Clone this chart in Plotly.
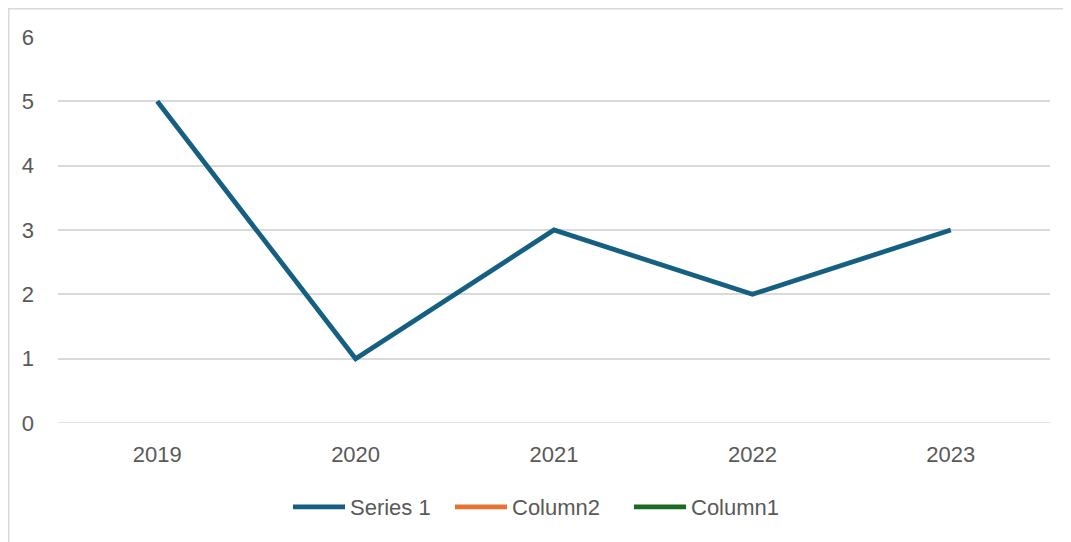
import plotly.graph_objects as go

years = ["2019", "2020", "2021", "2022", "2023"]
series1 = [5, 1, 3, 2, 3]
column2 = [None, None, None, None, None]
column1 = [None, None, None, None, None]

FONT = "Liberation Sans"
TXT = "#595959"
GRID = "#d9d9d9"
FS = 22

fig = go.Figure()
fig.add_trace(go.Scatter(x=years, y=series1, name="Series 1", mode="lines",
                         line=dict(color="#156082", width=4.8), legendwidth=95))
fig.add_trace(go.Scatter(x=years, y=column2, name="Column2", mode="lines",
                         line=dict(color="#E97132", width=4.8), showlegend=True,
                         legendwidth=112))
fig.add_trace(go.Scatter(x=years, y=column1, name="Column1", mode="lines",
                         line=dict(color="#196B24", width=4.8), showlegend=True,
                         legendwidth=100))

# page has an 8px body margin; figure coordinates = screen - 8
OFF = 8
W, H = 1071 - OFF, 542 - OFF
L, R = 58 - OFF, 21
T = 37 - OFF
B = H - (423 - OFF)
pw, ph = W - L - R, H - T - B

def px(x):
    return (x - OFF - L) / pw

def py(y):
    return (H - B - (y - OFF)) / ph

fig.update_layout(
    width=W, height=H,
    margin=dict(l=L, r=R, t=T, b=B),
    paper_bgcolor="white", plot_bgcolor="white",
    font=dict(family=FONT, size=FS, color=TXT),
    showlegend=True,
    legend=dict(orientation="h", x=px(288), xanchor="left", y=py(507), yanchor="middle",
                font=dict(family=FONT, size=FS, color=TXT), itemwidth=52,
                bgcolor="rgba(0,0,0,0)"),
    xaxis=dict(type="category", range=[-0.5, 4.5], showgrid=False, zeroline=False,
               showline=False, ticks="", ticklabelstandoff=16,
               tickfont=dict(family=FONT, size=FS, color=TXT), fixedrange=True),
    yaxis=dict(range=[0, 6], dtick=1, showgrid=True, gridcolor=GRID, gridwidth=1.5,
               zeroline=False, showline=False, ticks="", ticklabelstandoff=23,
               tickfont=dict(family=FONT, size=FS, color=TXT), fixedrange=True),
    shapes=[dict(type="rect", xref="paper", yref="paper",
                 x0=px(8.75), x1=px(1090), y0=py(560), y1=py(8.75),
                 line=dict(color=GRID, width=1.5), fillcolor="rgba(0,0,0,0)", layer="below"),
            dict(type="line", xref="paper", yref="y", x0=0, x1=1, y0=0, y1=0,
                 line=dict(color=GRID, width=1.5), layer="below")],
)

fig.write_html("out.html")
